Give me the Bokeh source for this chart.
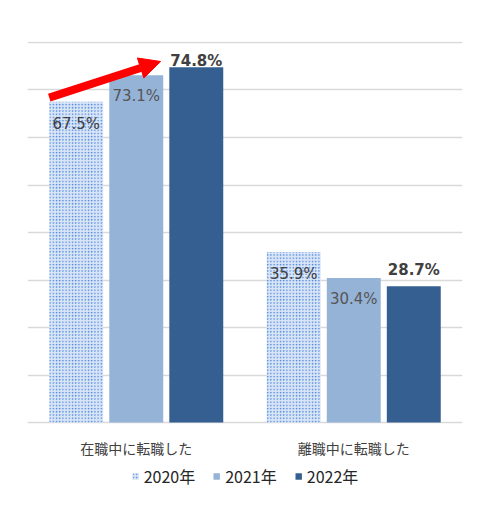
from bokeh.plotting import figure
from bokeh.models import (ColumnDataSource, FactorRange, FixedTicker, Legend,
                          LegendItem, Arrow, NormalHead)
from bokeh.transform import dodge
from bokeh.core.properties import value
from bokeh.embed import file_html
from bokeh.resources import INLINE

categories = ["在職中に転職した", "離職中に転職した"]
years = ["2020年", "2021年", "2022年"]
v2020 = [67.5, 35.9]
v2021 = [73.1, 30.4]
v2022 = [74.8, 28.7]
y_ticks = [0, 10, 20, 30, 40, 50, 60, 70, 80]

# label placement (screen px offsets, style only)
off2022 = [-6, -16]

src = ColumnDataSource(dict(
    cat=categories, v2020=v2020, v2021=v2021, v2022=v2022, zero=[0, 0], off2022=off2022,
    l2020=[f"{v}%" for v in v2020], l2021=[f"{v}%" for v in v2021], l2022=[f"{v}%" for v in v2022],
))

BW = 0.248
STEP = 0.276

p = figure(width=472, height=502, x_range=FactorRange(*categories, range_padding=0),
           y_range=(-16.84, 80.21), output_backend="svg", toolbar_location=None,
           min_border_left=27, min_border_right=10, min_border_top=41, min_border_bottom=0)
p.outline_line_color = None
p.background_fill_color = "white"
p.border_fill_color = "white"
p.xaxis.visible = False
p.yaxis.visible = False

p.ygrid.ticker = FixedTicker(ticks=y_ticks)
p.ygrid.grid_line_color = "#d9d9d9"
p.ygrid.grid_line_width = 1.3
p.xgrid.grid_line_color = None

r0 = p.vbar(x=dodge("cat", -STEP, range=p.x_range), top="v2020", width=BW, source=src,
            fill_color="#dae6f7", line_color=None, hatch_pattern="dot", hatch_color="#4a84dc",
            hatch_scale=3.2, hatch_weight=1.3)
r1 = p.vbar(x=dodge("cat", 0, range=p.x_range), top="v2021", width=BW, source=src,
            fill_color="#95b3d7", line_color=None)
r2 = p.vbar(x=dodge("cat", STEP, range=p.x_range), top="v2022", width=BW, source=src,
            fill_color="#355f91", line_color=None)

font = value("DejaVu Sans")
p.text(x=dodge("cat", -STEP, range=p.x_range), y="v2020", text="l2020", source=src,
       text_align="center", text_baseline="middle", y_offset=22, text_font=font,
       text_font_size="15px", text_color="#404040")
p.text(x=dodge("cat", 0, range=p.x_range), y="v2021", text="l2021", source=src,
       text_align="center", text_baseline="middle", y_offset=21, text_font=font,
       text_font_size="15px", text_color="#555555")
p.text(x=dodge("cat", STEP, range=p.x_range), y="v2022", text="l2022", source=src,
       text_align="center", text_baseline="middle", y_offset="off2022", text_font=font,
       text_font_size="15px", text_font_style="bold", text_color="#404040")

# category labels below the baseline
p.text(x="cat", y="zero", text="cat", source=src, text_align="center", text_baseline="middle",
       y_offset=25, text_font=value("Noto Sans CJK JP"), text_font_size="14px",
       text_color="#404040")

# red arrow from top of 2020 bar to top of 2022 bar (first category)
x_start = 0.5 - STEP - BW / 2
x_end = 0.5 + STEP - BW / 2 - 0.04
p.add_layout(Arrow(x_start=x_start, y_start=v2020[0] + 0.9, x_end=x_end, y_end=v2022[0] + 1.2,
                   line_color="#ff0000", line_width=8,
                   end=NormalHead(size=21, fill_color="#ff0000", line_color="#ff0000")))

legend = Legend(items=[LegendItem(label=years[0], renderers=[r0]),
                       LegendItem(label=years[1], renderers=[r1]),
                       LegendItem(label=years[2], renderers=[r2])],
                orientation="horizontal", location="bottom_center",
                label_text_font="Noto Sans CJK JP", label_text_font_size="16px",
                label_text_color="#262626", glyph_width=8, glyph_height=8,
                label_standoff=5, spacing=17, border_line_color=None,
                background_fill_alpha=0, padding=4, margin=14)
p.add_layout(legend, "center")

open("out.html", "w").write(file_html(p, INLINE))
